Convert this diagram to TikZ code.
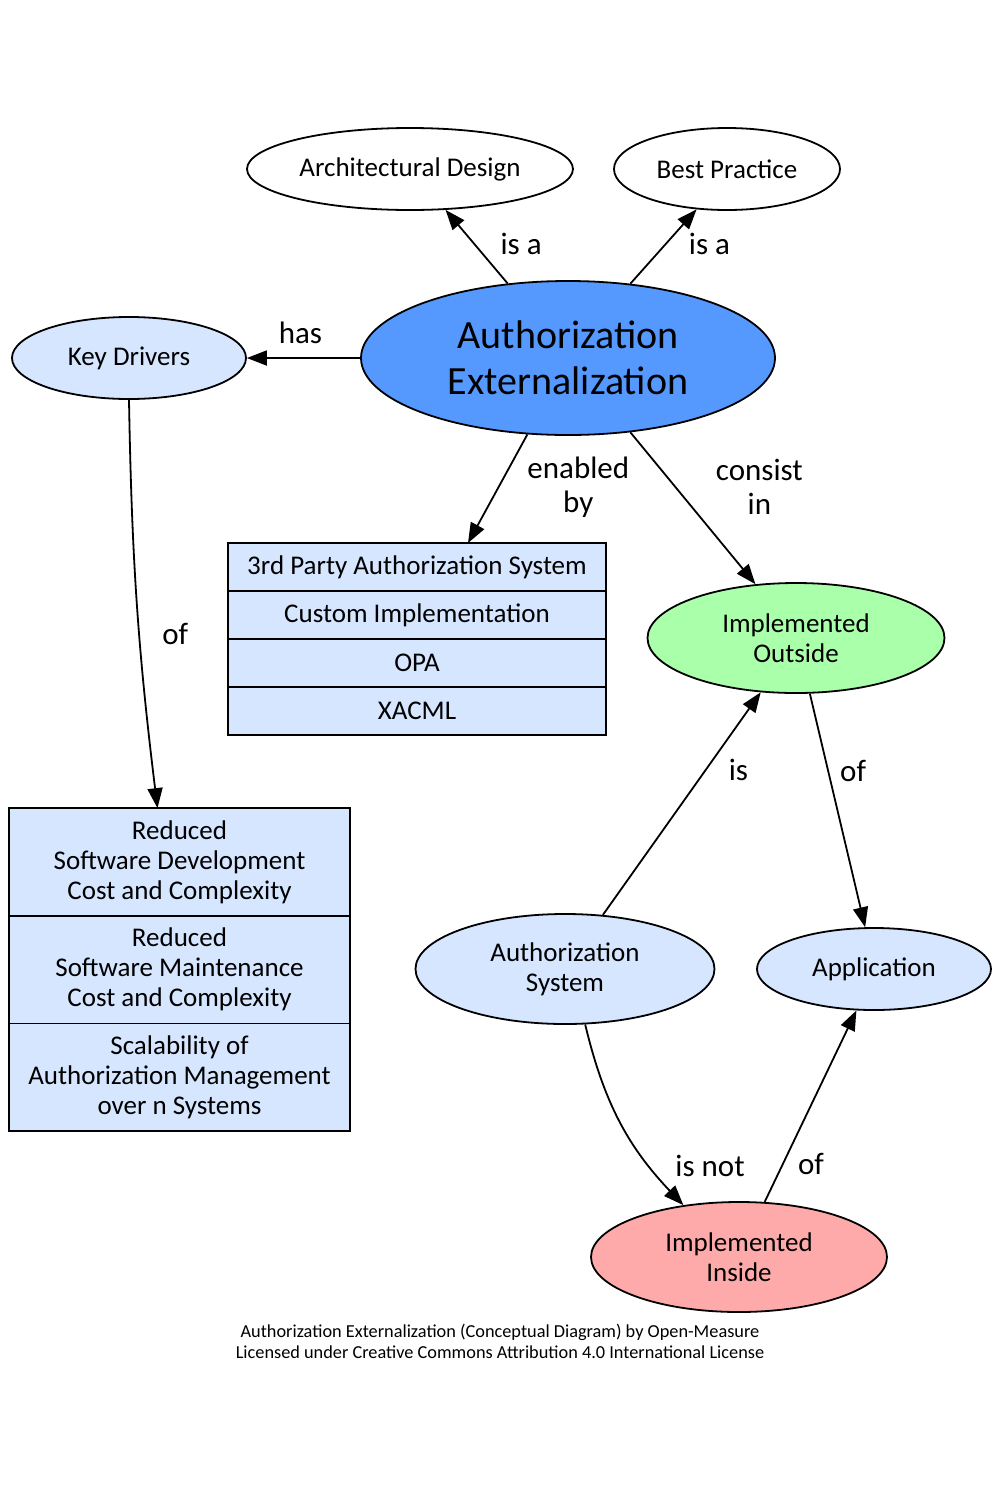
\documentclass[tikz,border=0pt]{standalone}
\usepackage{fontspec}
\setmainfont{Carlito}
\usetikzlibrary{shapes.geometric,arrows.meta,positioning}
\definecolor{aeblue}{HTML}{5599FF}
\definecolor{paleblue}{HTML}{D6E6FF}
\definecolor{palegreen}{HTML}{AAFFAA}
\definecolor{palered}{HTML}{FFAAAA}
\tikzset{
  concept/.style={ellipse, draw, line width=1.8pt, inner sep=0pt, align=center,
    font=\fontsize{27}{30}\selectfont},
  rowbox/.style={rectangle, draw, line width=1.8pt, fill=paleblue, inner sep=0pt,
    outer sep=0pt, align=center, font=\fontsize{27}{30}\selectfont},
  rel/.style={line width=1.8pt, -{Triangle[length=20pt,width=15pt]}},
  lbl/.style={inner sep=0pt, align=center, font=\fontsize{31}{34}\selectfont}
}
\begin{document}
\begin{tikzpicture}[x=1pt,y=-1pt]
  \fill[white] (0,0) rectangle (1000,1500);
  \useasboundingbox (0,0) rectangle (1000,1500);

  % concepts
  \node[concept, fill=aeblue, minimum width=414pt, minimum height=154pt,
        font=\fontsize{40}{46}\selectfont] (ae) at (568,358) {Authorization\\Externalization};
  \node[concept, minimum width=326pt, minimum height=82pt] (arch) at (410,169) {Architectural Design};
  \node[concept, minimum width=226pt, minimum height=82pt] (best) at (727,169) {Best Practice};
  \node[concept, fill=paleblue, minimum width=234pt, minimum height=82pt] (keyd) at (129,358) {Key Drivers};
  \node[concept, fill=palegreen, minimum width=297pt, minimum height=110pt] (io) at (796,638) {Implemented\\Outside};
  \node[concept, fill=paleblue, minimum width=299pt, minimum height=110pt] (asys) at (565,969) {Authorization\\System};
  \node[concept, fill=paleblue, minimum width=234pt, minimum height=82pt] (app) at (874,969) {Application};
  \node[concept, fill=palered, minimum width=296pt, minimum height=110pt] (ii) at (739,1257) {Implemented\\Inside};

  % enabled by
  \node[rowbox, minimum width=378pt, minimum height=48pt] (tpas) at (417,567) {3rd Party Authorization System};
  \node[rowbox, minimum width=378pt, minimum height=48pt, below=0pt of tpas] (custom) {Custom Implementation};
  \node[rowbox, minimum width=378pt, minimum height=48pt, below=0pt of custom] (opa) {OPA};
  \node[rowbox, minimum width=378pt, minimum height=48pt, below=0pt of opa] (xacml) {XACML};

  % drivers
  \node[rowbox, minimum width=341pt, minimum height=107.7pt] (devcost) at (179.5,862)
    {Reduced\\Software Development\\Cost and Complexity};
  \node[rowbox, minimum width=341pt, minimum height=107.7pt, below=0pt of devcost] (maintcost)
    {Reduced\\Software Maintenance\\Cost and Complexity};
  \node[rowbox, minimum width=341pt, minimum height=107.7pt, below=0pt of maintcost] (scal)
    {Scalability of\\Authorization Management\\over n Systems};

  % relations
  \draw[rel] (ae.129) -- node[lbl, pos=0.54, xshift=47pt] {is a} (arch.-49.5);
  \draw[rel] (ae.50) -- node[lbl, pos=0.53, xshift=44pt] {is a} (best.-127.8);
  \draw[rel] (ae.west) -- node[lbl, midway, xshift=-3pt, yshift=25pt] {has} (keyd.east);
  \draw[rel] (ae.-118) -- node[lbl, pos=0.49, xshift=80pt] {enabled\\by} ([xshift=51pt]tpas.north);
  \draw[rel] (ae.-50.8) -- node[lbl, pos=0.36, xshift=84pt] {consist\\in} (io.127.7);
  \draw[rel] (keyd.south) to[bend right=3] node[lbl, pos=0.58, xshift=36pt] {of} ([xshift=-22pt]devcost.north);
  \draw[rel] (asys.55.6) -- node[lbl, pos=0.65, xshift=33pt] {is} (io.-123.7);
  \draw[rel] (io.-76) -- node[lbl, pos=0.33, xshift=25pt] {of} (app.102.4);
  \draw[rel] (asys.-70.9) to[bend right=15] node[lbl, pos=0.78, xshift=59pt, yshift=2pt] {is not} (ii.137.1);
  \draw[rel] (ii.65.2) -- node[lbl, pos=0.2, xshift=28pt] {of} (app.-113.7);

  % credit
  \node[align=center, font=\fontsize{18.3}{21}\selectfont] (credit) at (500,1341)
    {Authorization Externalization (Conceptual Diagram) by Open-Measure\\
     Licensed under Creative Commons Attribution 4.0 International License};
\end{tikzpicture}
\end{document}
